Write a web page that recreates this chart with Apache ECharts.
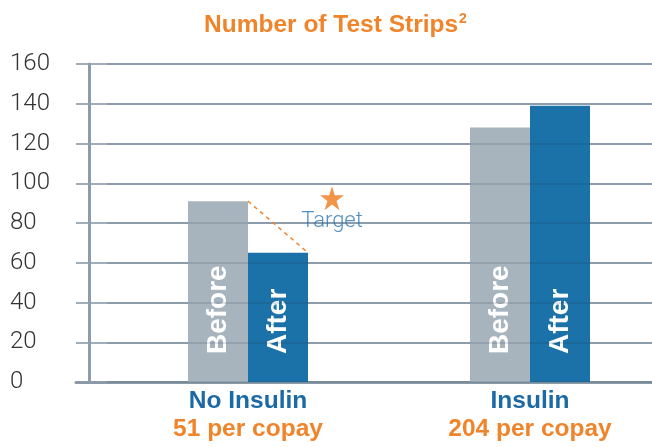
<!DOCTYPE html>
<html>
<head>
<meta charset="utf-8">
<script src="https://cdn.jsdelivr.net/npm/echarts@6/dist/echarts.min.js"></script>
<style>
  html,body{margin:0;padding:0;background:#fff;}
  #main{width:652px;height:447px;}
</style>
</head>
<body>
<div id="main"></div>
<script>
// data
var categories=['No Insulin','Insulin'];
var copayLabels=['51 per copay','204 per copay'];
var beforeValues=[91,128];
var afterValues=[65,139];
var yTicks=[0,20,40,60,80,100,120,140,160];
var targetPoint=['No Insulin',92.5];

var orange='#f0842b';
var blue='#1b72a8';
var grey='#a7b4bd';

var chart=echarts.init(document.getElementById('main'));

function valueAxis(grid,extra){
    return Object.assign({
        gridIndex:grid,type:'value',min:yTicks[0],max:yTicks[yTicks.length-1],interval:20,
        axisLine:{show:false},axisTick:{show:false},axisLabel:{show:false},splitLine:{show:false}
    },extra||{});
}

var option={
    animation:false,
    title:{
        text:'Number of Test Strips{s|2}',
        left:199,
        top:7,
        textStyle:{
            fontFamily:'Liberation Sans',
            fontSize:24.5,
            fontWeight:'bold',
            color:orange,
            rich:{
                s:{fontSize:14,fontWeight:'bold',color:orange,fontFamily:'Liberation Sans',verticalAlign:'top',padding:[0,0,12,1]}
            }
        }
    },
    grid:[
        {left:76,right:0,top:64,bottom:65},   // gridlines + axes
        {left:248,right:122,top:64,bottom:65}, // bars: category ticks at x=248 and x=530
        {left:107,right:0,top:64,bottom:65}    // faint gridlines over the bars
    ],
    xAxis:[
        {
            gridIndex:0,type:'category',data:categories,
            axisLine:{show:true,lineStyle:{color:'#8a9aa8',width:3}},
            axisTick:{show:false},axisLabel:{show:false},splitLine:{show:false}
        },
        {
            gridIndex:1,type:'category',data:categories,boundaryGap:false,
            axisLine:{show:false},axisTick:{show:false},
            axisLabel:{
                margin:5,interval:0,
                formatter:function(v,i){return '{a|'+v+'}\n{b|'+copayLabels[i]+'}';},
                rich:{
                    a:{fontFamily:'Liberation Sans',fontSize:24.5,fontWeight:'bold',color:'#1b6aa5',lineHeight:28},
                    b:{fontFamily:'Liberation Sans',fontSize:24.5,fontWeight:'bold',color:orange,lineHeight:28}
                }
            }
        },
        {
            gridIndex:2,type:'category',data:categories,show:false
        }
    ],
    yAxis:[
        valueAxis(0,{
            offset:-13,
            axisLine:{show:true,lineStyle:{color:'#8d9dab',width:3}},
            axisLabel:{
                show:true,margin:79,align:'left',padding:[0,0,6,0],
                fontFamily:'Roboto',fontWeight:300,fontSize:24,color:'#333'
            },
            splitLine:{show:true,lineStyle:{color:'#a0aebb',width:2}}
        }),
        valueAxis(1),
        valueAxis(2,{
            z:5,
            splitLine:{show:true,lineStyle:{color:'rgba(30,50,70,0.14)',width:2}}
        })
    ],
    series:[
        {
            name:'Before',type:'bar',xAxisIndex:1,yAxisIndex:1,clip:false,
            data:beforeValues,barWidth:60,barGap:'0%',
            itemStyle:{color:grey},
            label:{
                show:true,position:'insideBottom',rotate:90,align:'left',verticalAlign:'middle',
                distance:28,formatter:'Before',
                fontFamily:'Liberation Sans',fontSize:28,fontWeight:'bold',color:'#fff'
            }
        },
        {
            name:'After',type:'bar',xAxisIndex:1,yAxisIndex:1,clip:false,
            data:afterValues,barWidth:60,barGap:'0%',
            itemStyle:{color:blue},
            label:{
                show:true,position:'insideBottom',rotate:90,align:'left',verticalAlign:'middle',
                distance:28,formatter:'After',
                fontFamily:'Liberation Sans',fontSize:28,fontWeight:'bold',color:'#fff'
            }
        },
        {
            name:'Target',type:'scatter',xAxisIndex:1,yAxisIndex:1,clip:false,
            data:[targetPoint],
            symbol:'path://M12,0 L14.8,8.6 L24,8.6 L16.6,14 L19.4,22.8 L12,17.4 L4.6,22.8 L7.4,14 L0,8.6 L9.2,8.6 Z',
            symbolSize:24,symbolOffset:[84,0],
            itemStyle:{color:'#f07a1c'},
            label:{
                show:true,position:'bottom',distance:0,formatter:'Target',
                fontFamily:'Roboto',fontWeight:300,fontSize:22,color:'#2674b3'
            },
            z:6
        }
    ]
};
chart.setOption(option);

// dashed line from top-right corner of the Before bar to top-right corner of the After bar
var p1=chart.convertToPixel({xAxisIndex:1,yAxisIndex:1},[categories[0],beforeValues[0]]);
var p2=chart.convertToPixel({xAxisIndex:1,yAxisIndex:1},[categories[0],afterValues[0]]);
chart.setOption({
    graphic:[{
        type:'line',z:10,
        shape:{x1:p1[0],y1:p1[1],x2:p2[0]+60,y2:p2[1]},
        style:{stroke:orange,lineWidth:1.5,lineDash:[4,4]}
    }]
});
</script>
</body>
</html>
